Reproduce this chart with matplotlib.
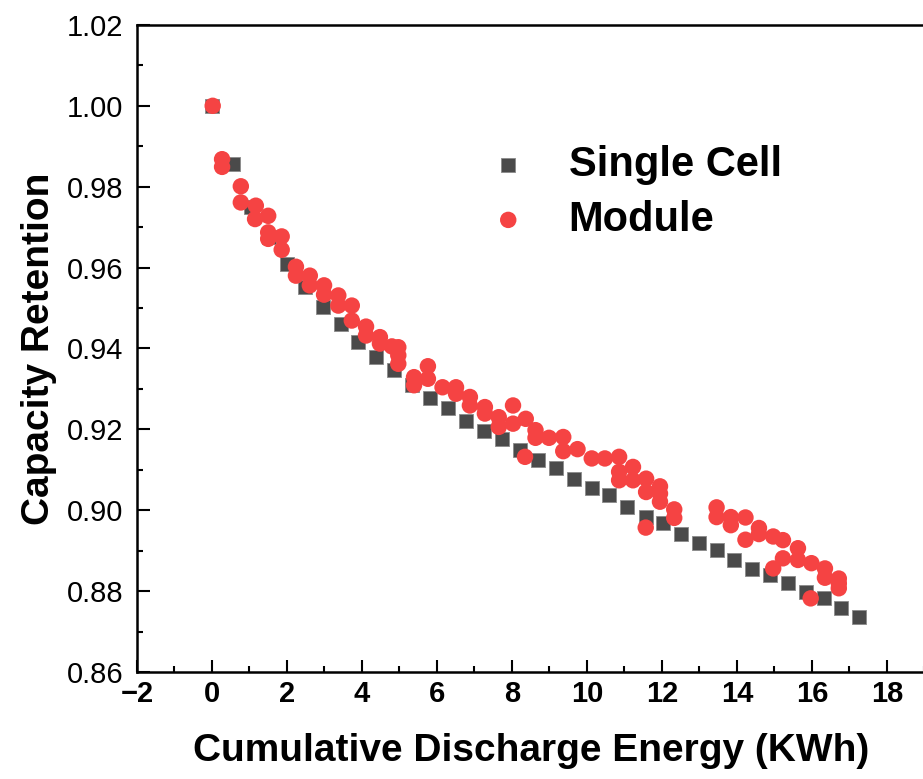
import numpy as np
import matplotlib
matplotlib.use("Agg")
import matplotlib.pyplot as plt
from matplotlib.ticker import MultipleLocator, FormatStrFormatter

plt.rcParams['font.family'] = ['Liberation Sans', 'DejaVu Sans']

# Single Cell data
cell_x = [0.0, 0.57, 1.04, 1.52, 1.99, 2.47, 2.95, 3.43, 3.90, 4.37, 4.85, 5.34,
          5.81, 6.30, 6.77, 7.25, 7.73, 8.21, 8.69, 9.17, 9.65, 10.13, 10.59,
          11.07, 11.57, 12.03, 12.51, 12.99, 13.46, 13.93, 14.41, 14.88, 15.37,
          15.84, 16.32, 16.79, 17.26]
cell_y = [1.000, 0.9856, 0.9750, 0.9675, 0.9609, 0.9551, 0.9502, 0.9461, 0.9416,
          0.9380, 0.9346, 0.9310, 0.9277, 0.9252, 0.9220, 0.9195, 0.9175, 0.9148,
          0.9123, 0.9105, 0.9077, 0.9056, 0.9037, 0.9008, 0.8983, 0.8969, 0.8942,
          0.8919, 0.8901, 0.8877, 0.8855, 0.8840, 0.8819, 0.8798, 0.8782, 0.8757,
          0.8737]

# Module data
mod_x = [0.02, 0.27, 0.27, 0.77, 0.77, 1.17, 1.15, 1.50, 1.50, 1.50, 1.86, 1.86,
         2.24, 2.24, 2.61, 2.61, 2.99, 2.99, 3.37, 3.37, 3.73, 3.73, 4.11, 4.11,
         4.48, 4.48, 4.97, 4.97, 4.97, 4.80, 5.39, 5.39, 5.76, 5.76, 6.15, 6.51,
         6.51, 6.88, 6.88, 7.28, 7.28, 7.65, 7.65, 8.03, 8.03, 8.37, 8.35, 8.63,
         8.63, 8.99, 9.37, 9.37, 9.75, 10.13, 10.48, 10.86, 10.86, 10.86, 11.23,
         11.23, 11.58, 11.58, 11.57, 11.95, 11.95, 11.95, 12.33, 12.33, 13.46,
         13.46, 13.84, 13.84, 14.23, 14.23, 14.59, 14.59, 14.97, 14.97, 15.23,
         15.23, 15.63, 15.63, 15.99, 15.97, 16.35, 16.35, 16.72, 16.72, 16.72]
mod_y = [1.0000, 0.9868, 0.9849, 0.9801, 0.9761, 0.9753, 0.9720, 0.9728, 0.9687,
         0.9671, 0.9677, 0.9644, 0.9602, 0.9580, 0.9580, 0.9556, 0.9556, 0.9533,
         0.9531, 0.9506, 0.9506, 0.9469, 0.9454, 0.9432, 0.9428, 0.9412, 0.9403,
         0.9383, 0.9362, 0.9405, 0.9329, 0.9309, 0.9356, 0.9325, 0.9304, 0.9304,
         0.9288, 0.9280, 0.9259, 0.9255, 0.9239, 0.9230, 0.9206, 0.9259, 0.9214,
         0.9226, 0.9132, 0.9198, 0.9179, 0.9179, 0.9181, 0.9146, 0.9151, 0.9128,
         0.9128, 0.9132, 0.9095, 0.9074, 0.9107, 0.9074, 0.9078, 0.9045, 0.8957,
         0.9059, 0.9041, 0.9021, 0.9002, 0.8981, 0.9007, 0.8983, 0.8983, 0.8963,
         0.8982, 0.8927, 0.8956, 0.8941, 0.8935, 0.8856, 0.8926, 0.8881, 0.8906,
         0.8877, 0.8869, 0.8782, 0.8856, 0.8833, 0.8831, 0.8819, 0.8807]

x_ticks = [-2, 0, 2, 4, 6, 8, 10, 12, 14, 16, 18]
x_labels = ['\u22122', '0', '2', '4', '6', '8', '10', '12', '14', '16', '18']

fig = plt.figure(figsize=(9.23, 7.79), dpi=100)
ax = fig.add_axes([0.1484, 0.1374, 0.853, 0.8306])

ax.scatter(cell_x, cell_y, marker='s', s=110, color='#4a4a4a',
           edgecolors='#8a8a8a', linewidths=0.6, label='Single Cell', zorder=2)
ax.scatter(mod_x, mod_y, marker='o', s=140, color='#f54343',
           edgecolors='none', label='Module', zorder=3)

ax.set_xlim(-2, 19)
ax.set_ylim(0.86, 1.02)
ax.xaxis.set_minor_locator(MultipleLocator(1))
ax.yaxis.set_major_locator(MultipleLocator(0.02))
ax.yaxis.set_minor_locator(MultipleLocator(0.01))
ax.yaxis.set_major_formatter(FormatStrFormatter('%.2f'))

for s in ax.spines.values():
    s.set_linewidth(1.8)
ax.spines['right'].set_visible(False)

ax.tick_params(which='major', direction='in', length=9, width=1.5)
ax.tick_params(which='minor', direction='in', length=4.5, width=1.5)
ax.tick_params(axis='y', labelsize=21, pad=10)
ax.tick_params(axis='x', labelsize=21, pad=6)

ax.set_xticks(x_ticks)
ax.set_xticklabels(x_labels)
fig.canvas.draw()
for lab in ax.get_xticklabels():
    lab.set_fontweight('bold')
    lab.set_fontsize(21)

ax.set_xlabel('Cumulative Discharge Energy (KWh)', fontsize=28,
              fontweight='bold', labelpad=18)
ax.set_ylabel('Capacity Retention', fontsize=28, fontweight='bold', labelpad=7)

ax.legend(loc='upper left', bbox_to_anchor=(0.371, 0.872), frameon=False,
          prop={'size': 30, 'weight': 'bold'}, handletextpad=0.45,
          labelspacing=0.35, markerscale=1.0)

fig.savefig('out.png', dpi=100)
